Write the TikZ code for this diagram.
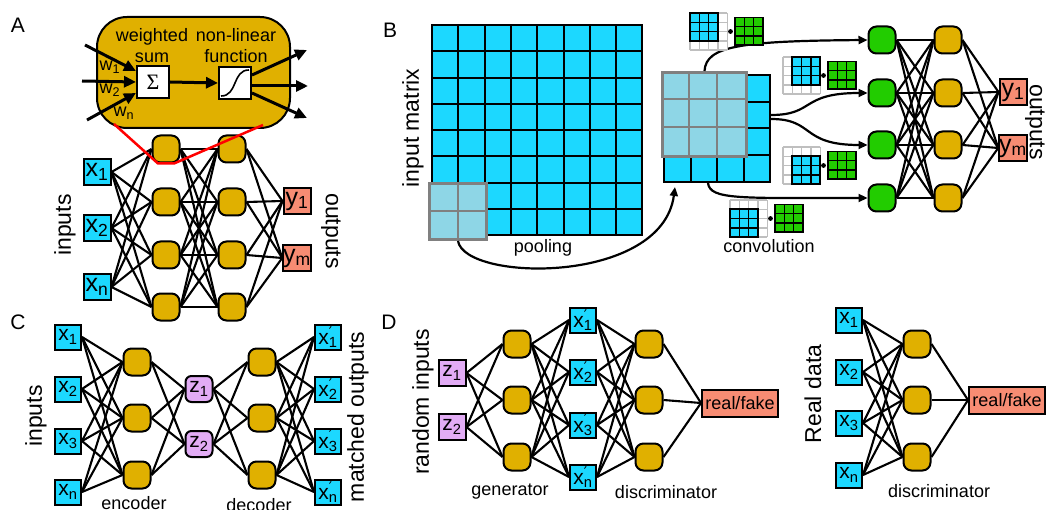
\documentclass[tikz,border=0pt]{standalone}
\usepackage{fontspec}
\setmainfont{Liberation Sans}
\newfontfamily\djv{DejaVu Sans}
\newfontfamily\serifsig{Liberation Serif}
\usetikzlibrary{arrows.meta,calc}
\definecolor{gold}{RGB}{224,176,0}
\definecolor{cyanb}{RGB}{28,216,255}
\definecolor{lblue}{RGB}{142,214,230}
\definecolor{greenn}{RGB}{34,204,0}
\definecolor{salmon}{RGB}{247,140,115}
\definecolor{purp}{RGB}{226,172,245}
\definecolor{grayb}{RGB}{128,128,128}
\newcommand\xs[1]{x\textsubscript{#1}}
\newcommand\xp[1]{x\rlap{\textsuperscript{\djv ′}}\textsubscript{#1}}
\newcommand\fs[1]{\fontsize{#1}{#1}\selectfont}
\tikzset{
 neuron/.style={draw, line width=2pt, fill=gold, minimum width=27pt, minimum height=27pt, rounded corners=8pt, inner sep=0pt},
 inbox/.style={draw, line width=2pt, fill=cyanb, minimum width=27pt, minimum height=26pt, inner sep=0pt, font=\fs{25}},
 inboxs/.style={draw, line width=2pt, fill=cyanb, minimum width=26pt, minimum height=25pt, inner sep=0pt, font=\fs{21}},
 outbox/.style={draw, line width=2pt, fill=salmon, minimum width=27pt, minimum height=26pt, inner sep=0pt, font=\fs{25}},
 rfbox/.style={draw, line width=2pt, fill=salmon, minimum width=76pt, minimum height=27pt, inner sep=0pt, font=\fs{18}},
 latent/.style={draw, line width=2pt, fill=purp, minimum width=27pt, minimum height=26pt, inner sep=0pt, font=\fs{21}},
 conn/.style={line width=2.1pt},
 bigarrow/.style={line width=3pt, -{Triangle[length=12pt,width=11pt]}},
 carrow/.style={line width=2.2pt, -{Triangle[length=9pt,width=8pt]}},
 biglabel/.style={font=\fs{23}},
 smalllabel/.style={font=\fs{18}},
 panel/.style={font=\fs{21}},
 pics/kern/.style 2 args={code={
   \fill[white] (0,0) rectangle (37.2,37.2);
   \foreach \k in {0,...,4} {
     \draw[gray!50, line width=1.4pt] ({\k*9.3},0) -- ({\k*9.3},37.2);
     \draw[gray!50, line width=1.4pt] (0,{\k*9.3}) -- (37.2,{\k*9.3});
   }
   \begin{scope}[shift={(#1,#2)}]
     \fill[cyanb] (0,0) rectangle (27.9,27.9);
     \foreach \k in {1,2} {
       \draw[line width=1.4pt] ({\k*9.3},0) -- ({\k*9.3},27.9);
       \draw[line width=1.4pt] (0,{\k*9.3}) -- (27.9,{\k*9.3});
     }
     \draw[line width=1.8pt] (0,0) rectangle (27.9,27.9);
   \end{scope}
   \fill (40.5,18.5) circle[radius=2.4pt];
   \begin{scope}[shift={(45,4.5)}]
     \fill[greenn] (0,0) rectangle (27.9,27.9);
     \foreach \k in {1,2} {
       \draw[line width=1.4pt] ({\k*9.3},0) -- ({\k*9.3},27.9);
       \draw[line width=1.4pt] (0,{\k*9.3}) -- (27.9,{\k*9.3});
     }
     \draw[line width=1.8pt] (0,0) rectangle (27.9,27.9);
   \end{scope}
 }},
}
\begin{document}
\begin{tikzpicture}[x=1pt,y=-1pt]
\useasboundingbox (0,0) rectangle (1048,510);

%%%%%%%%%%%%%%%% Panel A
\node[panel] (lA) at (18,25) {A};
\node[draw, line width=2pt, fill=gold, rounded corners=30pt, minimum width=193pt, minimum height=111pt] (cellbox) at (193.5,72.5) {};
\node[align=center, font=\fontsize{18}{21}\selectfont] (ws) at (152,46) {weighted\\sum};
\node[align=center, font=\fontsize{18}{21}\selectfont] (nl) at (236,46) {non-linear\\function};
\node[draw, line width=2pt, fill=white, minimum size=32pt, inner sep=0pt, font=\serifsig\fs{22}] (sum) at (153,82) {Σ};
\node[draw, line width=2pt, fill=white, minimum size=32pt, inner sep=0pt] (sig) at (235,83) {};
\draw[line width=1.6pt] ($(sig.center)+(-14,13)$) .. controls ($(sig.center)+(3,13)$) and ($(sig.center)+(-3,-13)$) .. ($(sig.center)+(14,-13)$);
\coordinate (wi1) at (85,45);
\coordinate (wi2) at (82,81);
\coordinate (wi3) at (87,120);
\draw[bigarrow] (wi1) -- ($(sum.west)+(0,-11)$);
\draw[bigarrow] (wi2) -- (sum.west);
\draw[bigarrow] (wi3) -- ($(sum.west)+(0,11)$);
\draw[bigarrow] (sum.east) -- (sig.west);
\coordinate (wo1) at (307,50);
\coordinate (wo2) at (308,86);
\coordinate (wo3) at (307,118);
\draw[bigarrow] ($(sig.east)+(0,-8)$) -- (wo1);
\draw[bigarrow] ($(sig.east)+(0,3)$) -- (wo2);
\draw[bigarrow] ($(sig.east)+(0,10)$) -- (wo3);
\node[font=\fs{18}] (w1) at (110,67) {w\textsubscript{1}};
\node[font=\fs{18}] (w2) at (110,90) {w\textsubscript{2}};
\node[font=\fs{18}] (wn) at (124,113) {w\textsubscript{n}};

\foreach \i/\y in {1/149,2/202,3/255,4/307} {
  \node[neuron] (ah1-\i) at (166,\y) {};
  \node[neuron] (ah2-\i) at (232,\y) {};
}
\node[inbox] (ax1) at (97,172) {\xs{1}};
\node[inbox] (ax2) at (97,228) {\xs{2}};
\node[inbox] (axn) at (97,287) {\xs{n}};
\node[outbox] (ay1) at (297,201) {y\textsubscript{1}};
\node[outbox] (aym) at (297,258) {y\textsubscript{m}};
\foreach \a in {ax1,ax2,axn} \foreach \i in {1,...,4} \draw[conn] (\a.east) -- (ah1-\i.west);
\foreach \i in {1,...,4} \foreach \j in {1,...,4} \draw[conn] (ah1-\i.east) -- (ah2-\j.west);
\foreach \i in {1,...,4} \foreach \b in {ay1,aym} \draw[conn] (ah2-\i.east) -- (\b.west);
\coordinate (rl) at (114,124);
\coordinate (rr) at (263,125);
\draw[red, line width=2.5pt, line join=round] (rl) -- ($(ah1-1.south)+(-8,0)$) -- ($(ah1-1.south)+(8,0)$) -- (rr);
\node[biglabel, rotate=90] (ainl) at (65,225) {inputs};
\node[biglabel, rotate=-90] (aoutl) at (331,231) {outputs};

%%%%%%%%%%%%%%%% Panel B
\node[panel] (lB) at (390,30) {B};
\foreach \i in {0,...,7} \foreach \j in {0,...,7}
  \draw[line width=2pt, fill=cyanb] ({432+\i*26.3},{25+\j*26.3}) rectangle ++(26.3,26.3);
\node[draw=grayb, line width=3pt, fill=lblue, minimum width=57pt, minimum height=56pt, inner sep=0pt] (poolwin) at (458,211.5) {};
\draw[grayb, line width=2pt] (poolwin.north) -- (poolwin.south) (poolwin.west) -- (poolwin.east);
\node[biglabel, rotate=90] (inmat) at (413,128) {input matrix};
\node[smalllabel] (pooll) at (543,248) {pooling};

\foreach \i in {0,...,3} \foreach \j in {0,...,3}
  \draw[line width=2pt, fill=cyanb] ({664+\i*26.5},{75+\j*26.75}) rectangle ++(26.5,26.75);
\node[draw=grayb, line width=3pt, fill=lblue, minimum size=84pt, inner sep=0pt] (convwin) at (704.5,114.5) {};
\draw[grayb, line width=2pt] ($(convwin.north west)+(28,0)$) -- ($(convwin.south west)+(28,0)$)
  ($(convwin.north west)+(56,0)$) -- ($(convwin.south west)+(56,0)$)
  ($(convwin.north west)+(0,28)$) -- ($(convwin.north east)+(0,28)$)
  ($(convwin.north west)+(0,56)$) -- ($(convwin.north east)+(0,56)$);
\coordinate (convbot) at (675,187);
\draw[carrow] (poolwin.south) .. controls (465,282) and (662,285) .. (convbot);

\foreach \i/\y in {1/40,2/93,3/145,4/198} {
  \node[neuron, fill=greenn] (bg\i) at (882,\y) {};
  \node[neuron] (bh\i) at (948,\y) {};
}
\node[outbox] (by1) at (1013,92) {y\textsubscript{1}};
\node[outbox] (bym) at (1013,148) {y\textsubscript{m}};
\foreach \i in {1,...,4} \foreach \j in {1,...,4} \draw[conn] (bg\i.east) -- (bh\j.west);
\foreach \i in {1,...,4} \foreach \b in {by1,bym} \draw[conn] (bh\i.east) -- (\b.west);
\coordinate (cm2) at (771,115);
\coordinate (cm3) at (771,119);
\coordinate (cm4) at (708,183);
\draw[carrow] (convwin.north) .. controls (706,46) and (740,41) .. (bg1.west);
\draw[carrow] (cm2) .. controls (815,115) and (800,93) .. (bg2.west);
\draw[carrow] (cm3) .. controls (815,119) and (800,145) .. (bg3.west);
\draw[carrow] (cm4) .. controls (710,200) and (740,198) .. (bg4.west);
\pic at (690,13) {kern={0}{0}};
\pic at (783,57) {kern={9.3}{0}};
\pic at (783,147) {kern={9.3}{9.3}};
\pic at (730,200) {kern={0}{9.3}};
\node[smalllabel] (convl) at (769,246) {convolution};
\node[biglabel, rotate=-90] (boutl) at (1035,122) {outputs};

%%%%%%%%%%%%%%%% Panel C
\node[panel] (lC) at (18,322) {C};
\foreach \n/\y/\s in {1/337/1,2/389/2,3/441/3,4/492/n} {
  \node[inboxs] (cx\n) at (68,\y) {\xs{\s}};
  \node[inboxs] (co\n) at (328,\y) {\xp{\s}};
}
\foreach \n/\y in {1/362,2/418,3/475} {
  \node[neuron] (ce\n) at (137,\y) {};
  \node[neuron] (cd\n) at (262,\y) {};
}
\node[latent, rounded corners=6pt] (cz1) at (199,389) {z\textsubscript{1}};
\node[latent, rounded corners=6pt] (cz2) at (199,444) {z\textsubscript{2}};
\foreach \a in {1,...,4} \foreach \b in {1,2,3} \draw[conn] (cx\a.east) -- (ce\b.west);
\foreach \a in {1,2,3} \foreach \b in {1,2} \draw[conn] (ce\a.east) -- (cz\b.west);
\foreach \a in {1,2} \foreach \b in {1,2,3} \draw[conn] (cz\a.east) -- (cd\b.west);
\foreach \a in {1,2,3} \foreach \b in {1,...,4} \draw[conn] (cd\a.east) -- (co\b.west);
\node[biglabel, rotate=90] (cinl) at (36,416) {inputs};
\node[biglabel, rotate=90] (coutl) at (358,417) {matched outputs};
\node[smalllabel] (encl) at (134,503) {encoder};
\node[smalllabel] (decl) at (259,505) {decoder};

%%%%%%%%%%%%%%%% Panel D
\node[panel] (lD) at (389,322) {D};
\node[latent] (dz1) at (452,373) {z\textsubscript{1}};
\node[latent] (dz2) at (452,427) {z\textsubscript{2}};
\foreach \n/\y in {1/344,2/400,3/457} {
  \node[neuron] (dg\n) at (517,\y) {};
  \node[neuron] (dd\n) at (649,\y) {};
  \node[neuron] (ed\n) at (917,\y) {};
}
\foreach \n/\y/\s in {1/320/1,2/372/2,3/425/3,4/477/n} {
  \node[inboxs] (dx\n) at (583,\y) {\xp{\s}};
}
\foreach \n/\y/\s in {1/320/1,2/372/2,3/423/3,4/475/n} {
  \node[inboxs] (ex\n) at (849,\y) {\xs{\s}};
}
\node[rfbox] (drf) at (740,403) {real/fake};
\node[rfbox] (erf) at (1007,400) {real/fake};
\foreach \a in {1,2} \foreach \b in {1,2,3} \draw[conn] (dz\a.east) -- (dg\b.west);
\foreach \a in {1,2,3} \foreach \b in {1,...,4} \draw[conn] (dg\a.east) -- (dx\b.west);
\foreach \a in {1,...,4} \foreach \b in {1,2,3} \draw[conn] (dx\a.east) -- (dd\b.west);
\foreach \a in {1,2,3} \draw[conn] (dd\a.east) -- (drf.west);
\foreach \a in {1,...,4} \foreach \b in {1,2,3} \draw[conn] (ex\a.east) -- (ed\b.west);
\foreach \a in {1,2,3} \draw[conn] (ed\a.east) -- (erf.west);
\node[biglabel, rotate=90] (drl) at (423,402) {random inputs};
\node[biglabel, rotate=90] (erl) at (813,394) {Real data};
\node[smalllabel] (genl) at (510,492) {generator};
\node[smalllabel] (discl) at (666,492) {discriminator};
\node[smalllabel] (disc2l) at (939,491) {discriminator};
\end{tikzpicture}
\end{document}
